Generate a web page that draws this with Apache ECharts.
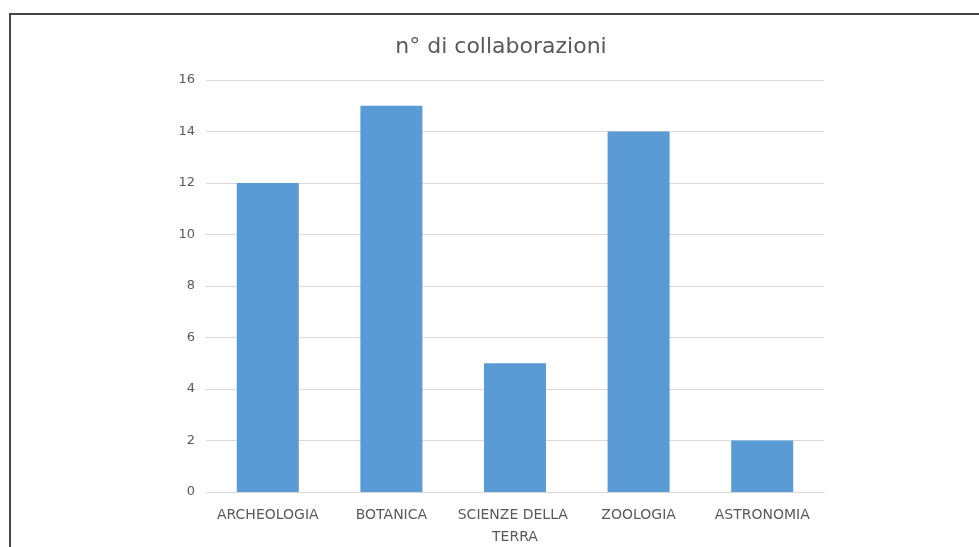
<!DOCTYPE html>
<html>
<head>
<meta charset="utf-8">
<script src="https://cdn.jsdelivr.net/npm/echarts@6/dist/echarts.min.js"></script>
<style>
  html, body { margin: 0; padding: 0; background: #fff; }
  #chart { width: 979px; height: 547px; }
</style>
</head>
<body>
<div id="chart"></div>
<script>
// Number of collaborations per discipline
const categories = ['ARCHEOLOGIA', 'BOTANICA', 'SCIENZE DELLA TERRA', 'ZOOLOGIA', 'ASTRONOMIA'];
const collaborations = [12, 15, 5, 14, 2];
const yTicks = { min: 0, max: 16, interval: 2 };

const textColor = '#595959';
const font = '"DejaVu Sans", "Noto Sans", sans-serif';

const chart = echarts.init(document.getElementById('chart'), null, { renderer: 'canvas' });
chart.setOption({
  backgroundColor: '#ffffff',
  animation: false,
  title: {
    text: 'n° di collaborazioni',
    left: 496,
    textAlign: 'center',
    top: 31,
    textStyle: { color: textColor, fontSize: 22, fontWeight: 'normal', fontFamily: font }
  },
  grid: {
    left: 206, right: 155, top: 80, bottom: 55,
    containLabel: false,
    outerBoundsMode: 'none'
  },
  xAxis: {
    type: 'category',
    data: categories,
    axisLine: { show: true, lineStyle: { color: '#d9d9d9', width: 1 } },
    axisTick: { show: false },
    axisLabel: {
      color: textColor,
      fontSize: 14,
      fontFamily: font,
      margin: 12,
      interval: 0,
      width: 122,
      overflow: 'break',
      lineHeight: 22
    }
  },
  yAxis: {
    type: 'value',
    min: yTicks.min,
    max: yTicks.max,
    interval: yTicks.interval,
    axisLine: { show: false },
    axisTick: { show: false },
    splitLine: { lineStyle: { color: '#d9d9d9', width: 1 } },
    axisLabel: { color: textColor, fontSize: 13, fontFamily: font, margin: 11 }
  },
  series: [{
    type: 'bar',
    data: collaborations,
    barWidth: 62,
    itemStyle: { color: '#5b9bd5' }
  }],
  graphic: [{
    type: 'polyline',
    shape: { points: [[10, 547], [10, 14], [979, 14]] },
    style: { stroke: '#454545', lineWidth: 2, fill: null }
  }]
});
</script>
</body>
</html>
